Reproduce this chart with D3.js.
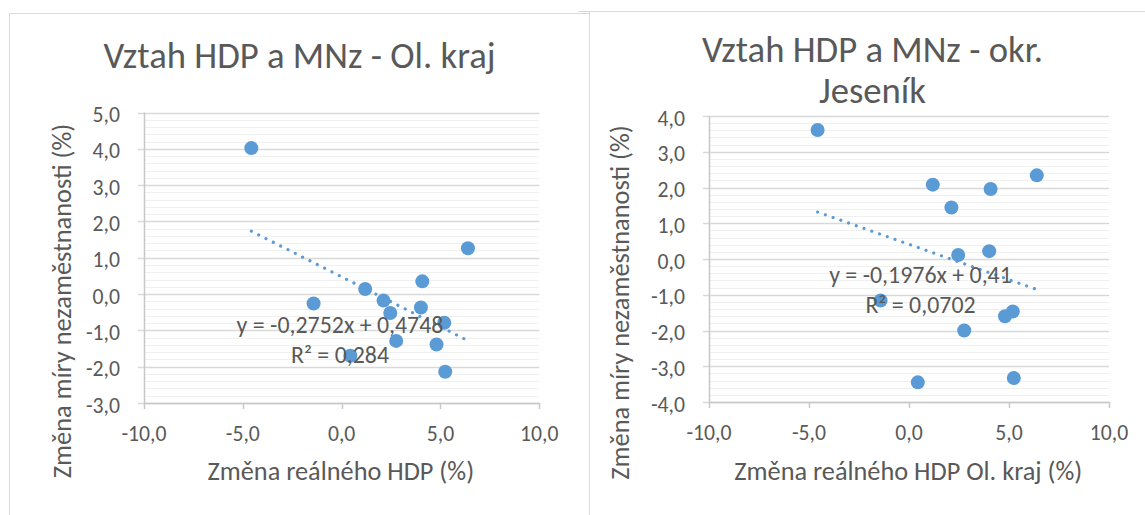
<!DOCTYPE html>
<html>
<head>
<meta charset="utf-8">
<script src="https://cdn.jsdelivr.net/npm/d3@7"></script>
<style>
  body { margin: 0; background: #fff; }
  svg text { font-family: Calibri, Carlito, Lato, sans-serif; fill: #595959; }
</style>
</head>
<body>
<svg id="chart" width="1145" height="515"></svg>
<script>
// shared x values: change of real GDP, Olomoucký kraj (%)
const hdpOl = [-4.57, 6.39, 4.08, 1.19, -1.42, 2.12, 4.01, 2.46, 5.19, 2.76, 4.80, 0.44, 5.24]
// change of unemployment rate (%), Ol. kraj
const mnzOl = [4.02, 1.26, 0.35, 0.14, -0.26, -0.18, -0.37, -0.52, -0.79, -1.29, -1.39, -1.70, -2.14]
// change of unemployment rate (%), okr. Jeseník
const mnzJes = [3.61, 2.34, 1.96, 2.08, -1.16, 1.44, 0.22, 0.11, -1.47, -2.00, -1.60, -3.45, -3.33]

// trend lines as printed in the charts
const trendOl = { slope: -0.2752, intercept: 0.4748, eq: "y = -0,2752x + 0,4748", r2: "R² = 0,284" }
const trendJes = { slope: -0.1976, intercept: 0.41, eq: "y = -0,1976x + 0,41", r2: "R² = 0,0702" }

const xTicks = [-10, -5, 0, 5, 10]
const yTicksOl = [-3, -2, -1, 0, 1, 2, 3, 4, 5]
const yTicksJes = [-4, -3, -2, -1, 0, 1, 2, 3, 4]

const cz = d3.formatLocale({ decimal: ",", thousands: " ", grouping: [3], currency: ["", " Kč"], minus: "-" })
const fmt = cz.format(".1f")

const svg = d3.select("#chart")
const blue = "#5B9BD5"

// chart frames
svg.append("line").attr("x1", 9.5).attr("y1", 13.5).attr("x2", 590).attr("y2", 13.5).attr("stroke", "#d9d9d9")
svg.append("line").attr("x1", 9.5).attr("y1", 13.5).attr("x2", 9.5).attr("y2", 515).attr("stroke", "#d9d9d9")
svg.append("line").attr("x1", 578).attr("y1", 11.5).attr("x2", 1145).attr("y2", 11.5).attr("stroke", "#d9d9d9")
svg.append("line").attr("x1", 589.5).attr("y1", 11.5).attr("x2", 589.5).attr("y2", 515).attr("stroke", "#d9d9d9")

function drawChart(c) {
  const x = d3.scaleLinear().domain([-10, 10]).range([c.left, c.right])
  const y = d3.scaleLinear().domain([c.yTicks[0], c.yTicks[c.yTicks.length - 1]]).range([c.bottom, c.top])
  const g = svg.append("g")

  // minor gridlines every 0.2
  g.selectAll(".minor")
    .data(y.ticks(40))
    .enter().append("line")
    .attr("x1", c.left).attr("x2", c.right)
    .attr("y1", d => Math.round(y(d)) + 0.5).attr("y2", d => Math.round(y(d)) + 0.5)
    .attr("stroke", "#f0f0f0")

  // major gridlines
  g.selectAll(".major")
    .data(c.yTicks)
    .enter().append("line")
    .attr("x1", c.left - 6).attr("x2", c.right)
    .attr("y1", d => Math.round(y(d)) + 0.5).attr("y2", d => Math.round(y(d)) + 0.5)
    .attr("stroke", "#d9d9d9").attr("stroke-width", 1.3)

  // axes
  g.append("line")
    .attr("x1", Math.round(c.left) + 0.5).attr("x2", Math.round(c.left) + 0.5)
    .attr("y1", c.top).attr("y2", c.bottom)
    .attr("stroke", "#c8c8c8").attr("stroke-width", 1.5)
  g.append("line")
    .attr("x1", c.left).attr("x2", c.right)
    .attr("y1", Math.round(c.bottom) + 0.5).attr("y2", Math.round(c.bottom) + 0.5)
    .attr("stroke", "#c8c8c8").attr("stroke-width", 1.5)
  g.selectAll(".xtick")
    .data(xTicks)
    .enter().append("line")
    .attr("x1", d => Math.round(x(d)) + 0.5).attr("x2", d => Math.round(x(d)) + 0.5)
    .attr("y1", c.bottom).attr("y2", c.bottom + 6)
    .attr("stroke", "#c8c8c8").attr("stroke-width", 1.5)

  g.selectAll(".ylab")
    .data(c.yTicks)
    .enter().append("text")
    .attr("x", c.left - 24).attr("y", d => y(d) + 9.5)
    .attr("text-anchor", "end")
    .style("font-size", "21.7px")
    .text(d => fmt(d))

  g.selectAll(".xlab")
    .data(xTicks)
    .enter().append("text")
    .attr("x", d => x(d)).attr("y", c.bottom + 38)
    .attr("text-anchor", "middle")
    .style("font-size", "21.7px")
    .text(d => fmt(d))

  // points
  g.selectAll(".pt")
    .data(hdpOl.map((v, i) => [v, c.yValues[i]]))
    .enter().append("circle")
    .attr("cx", d => x(d[0])).attr("cy", d => y(d[1]))
    .attr("r", 7)
    .attr("fill", blue)

  // trend line
  const ext = d3.extent(hdpOl)
  g.append("line")
    .attr("x1", x(ext[0])).attr("y1", y(c.trend.slope * ext[0] + c.trend.intercept))
    .attr("x2", x(ext[1])).attr("y2", y(c.trend.slope * ext[1] + c.trend.intercept))
    .attr("stroke", blue).attr("stroke-width", 3.2)
    .attr("stroke-linecap", "round").attr("stroke-dasharray", "0.01 8.2")

  // trend label
  g.append("text").attr("x", c.labelX).attr("y", c.labelY)
    .attr("text-anchor", "middle").style("font-size", "23.9px").text(c.trend.eq)
  g.append("text").attr("x", c.labelX).attr("y", c.labelY + 30)
    .attr("text-anchor", "middle").style("font-size", "23.9px").text(c.trend.r2)

  // titles
  c.title.forEach((t, i) => {
    g.append("text").attr("x", c.titleX).attr("y", c.titleY + i * 41.6)
      .attr("text-anchor", "middle").style("font-size", "36.7px").text(t)
  })
  g.append("text").attr("x", c.xTitleX).attr("y", 480)
    .attr("text-anchor", "middle").style("font-size", "26.3px").text(c.xTitle)
  g.append("text")
    .attr("transform", `translate(${c.yTitleX},${c.yTitleY}) rotate(-90)`)
    .attr("text-anchor", "middle").style("font-size", "26.3px").text("Změna míry nezaměstnanosti (%)")
}

drawChart({
  left: 144, right: 539.3, top: 112.5, bottom: 403,
  yTicks: yTicksOl, yValues: mnzOl, trend: trendOl,
  labelX: 340, labelY: 333,
  title: ["Vztah HDP a MNz - Ol. kraj"], titleX: 299.5, titleY: 68.3,
  xTitle: "Změna reálného HDP (%)", xTitleX: 340.8,
  yTitleX: 71, yTitleY: 301
})

drawChart({
  left: 709, right: 1109, top: 116, bottom: 402,
  yTicks: yTicksJes, yValues: mnzJes, trend: trendJes,
  labelX: 920.5, labelY: 282.7,
  title: ["Vztah HDP a MNz - okr.", "Jeseník"], titleX: 872.5, titleY: 61.7,
  xTitle: "Změna reálného HDP Ol. kraj (%)", xTitleX: 908.3,
  yTitleX: 629, yTitleY: 302.5
})
</script>
</body>
</html>
